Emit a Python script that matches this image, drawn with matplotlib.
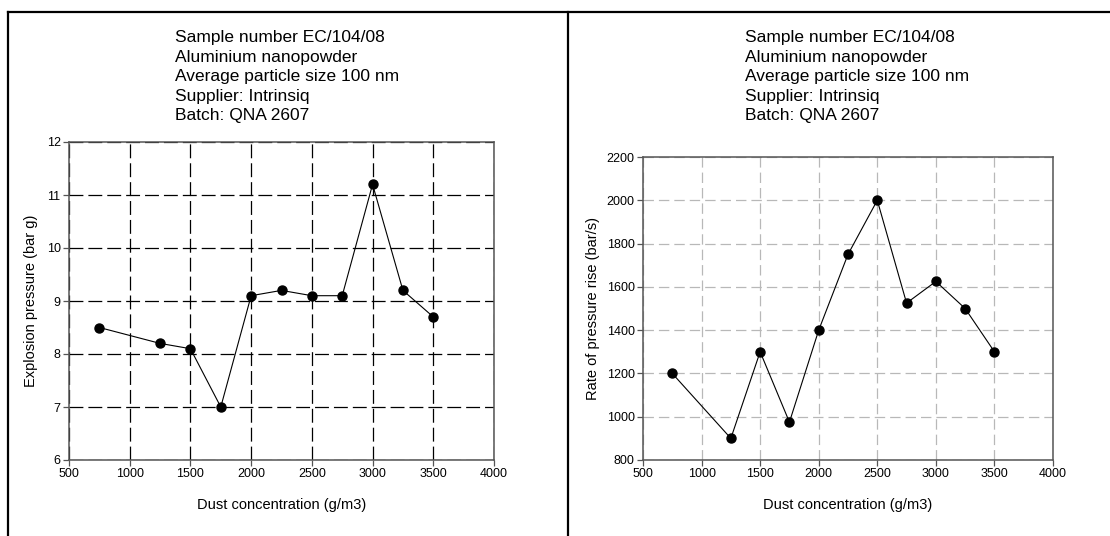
import matplotlib.pyplot as plt
from matplotlib.lines import Line2D

plt.rcParams['font.family'] = ['Liberation Sans', 'DejaVu Sans']
plt.rcParams['lines.scale_dashes'] = False

# Dust explosion test results
dust_conc = [750, 1250, 1500, 1750, 2000, 2250, 2500, 2750, 3000, 3250, 3500]
pmax = [8.5, 8.2, 8.1, 7.0, 9.1, 9.2, 9.1, 9.1, 11.2, 9.2, 8.7]
dpdt = [1200, 900, 1300, 975, 1400, 1750, 2000, 1525, 1625, 1500, 1300]

x_ticks = [500, 1000, 1500, 2000, 2500, 3000, 3500, 4000]
p_ticks = [6, 7, 8, 9, 10, 11, 12]
r_ticks = [800, 1000, 1200, 1400, 1600, 1800, 2000, 2200]

sample_info = ("Sample number EC/104/08\n"
               "Aluminium nanopowder\n"
               "Average particle size 100 nm\n"
               "Supplier: Intrinsiq\n"
               "Batch: QNA 2607")

W, H = 1110, 536
fig = plt.figure(figsize=(W / 100, H / 100), dpi=100)


def frac(x0, y0, x1, y1):
    # pixel box -> figure fraction [left, bottom, width, height]
    return [x0 / W, 1 - y1 / H, (x1 - x0) / W, (y1 - y0) / H]


def style_axes(ax, grid_color, dashes):
    for s in ax.spines.values():
        s.set_color('#555555')
        s.set_linewidth(1.1)
    ax.tick_params(direction='out', length=4, width=0.9, color='#555555',
                   labelsize=9, pad=2)
    ax.set_axisbelow(True)
    ax.grid(True, color=grid_color, linewidth=0.9, linestyle=(0, dashes))


ax1 = fig.add_axes(frac(69, 142, 494, 460))
ax1.plot(dust_conc, pmax, color='black', linewidth=0.8, marker='o',
         markersize=6.5, markerfacecolor='black')
ax1.set_xlim(500, 4000)
ax1.set_ylim(6, 12)
ax1.set_xticks(x_ticks)
ax1.set_yticks(p_ticks)
style_axes(ax1, 'black', (10, 3.6))
ax1.set_xlabel("Dust concentration (g/m3)", fontsize=10.5, labelpad=13)
ax1.set_ylabel("Explosion pressure (bar g)", fontsize=10.5, labelpad=6)

ax2 = fig.add_axes(frac(643, 157, 1053, 460))
ax2.plot(dust_conc, dpdt, color='black', linewidth=0.8, marker='o',
         markersize=6.5, markerfacecolor='black')
ax2.set_xlim(500, 4000)
ax2.set_ylim(800, 2200)
ax2.set_xticks(x_ticks)
ax2.set_yticks(r_ticks)
style_axes(ax2, '#b8b8b8', (7.5, 3.6))
ax2.set_xlabel("Dust concentration (g/m3)", fontsize=10.5, labelpad=13)
ax2.set_ylabel("Rate of pressure rise (bar/s)", fontsize=10.5, labelpad=5)

fig.text(175 / W, 1 - 30 / H, sample_info, fontsize=12.5, ha='left',
         va='top', linespacing=1.38)
fig.text(745 / W, 1 - 30 / H, sample_info, fontsize=12.5, ha='left',
         va='top', linespacing=1.38)

# panel frame: top rule, left rule and divider
frame = dict(color='black', linewidth=1.6, transform=fig.transFigure)
fig.lines.append(Line2D([8 / W, 1], [1 - 12 / H, 1 - 12 / H], **frame))
fig.lines.append(Line2D([8 / W, 8 / W], [0, 1 - 12 / H], **frame))
fig.lines.append(Line2D([568 / W, 568 / W], [0, 1 - 12 / H], **frame))

fig.savefig("out.png", dpi=100)
